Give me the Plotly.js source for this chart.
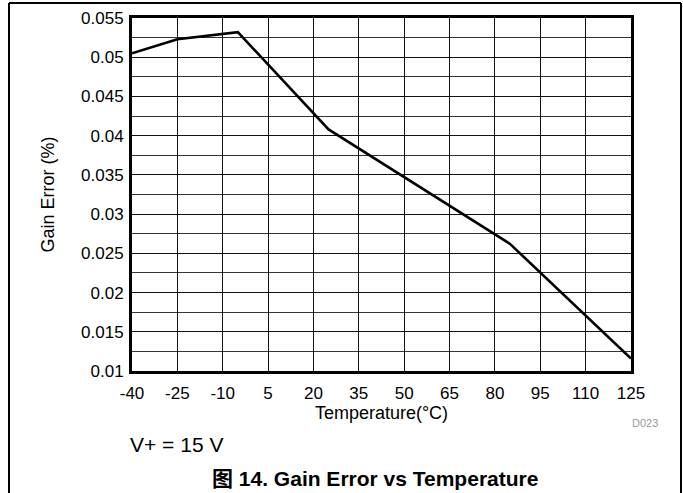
<!DOCTYPE html>
<html>
<head>
<meta charset="utf-8">
<script src="https://cdn.plot.ly/plotly-3.0.1.min.js"></script>
<style>
html, body { margin: 0; padding: 0; background: #fff; }
#chart { width: 683px; height: 493px; }
</style>
</head>
<body>
<div id="chart"></div>
<script>
// Data
const temperatureC = [-40, -25, -5, 25, 85, 125];
const gainErrorPct = [0.0505, 0.0523, 0.0532, 0.0408, 0.0262, 0.0116];
const xTickVals = [-40, -25, -10, 5, 20, 35, 50, 65, 80, 95, 110, 125];
const yTickVals = [0.01, 0.015, 0.02, 0.025, 0.03, 0.035, 0.04, 0.045, 0.05, 0.055];
const yTickText = ['0.01', '0.015', '0.02', '0.025', '0.03', '0.035', '0.04', '0.045', '0.05', '0.055'];

const FONT = 'Liberation Sans, Arial, Noto Sans CJK SC, sans-serif';

const W = 683, H = 493;
const L = 132, R = 631, T = 18, B = 371;
const pw = R - L, ph = B - T;
const px = x => (x - L) / pw;
const py = y => (B - y) / ph;

const trace = {
  x: temperatureC,
  y: gainErrorPct,
  mode: 'lines',
  type: 'scatter',
  line: { color: '#000', width: 2.6 },
  hoverinfo: 'skip'
};

const layout = {
  width: W, height: H,
  margin: { l: L, r: W - R, t: T, b: H - B, pad: 0 },
  paper_bgcolor: '#fff',
  plot_bgcolor: '#fff',
  showlegend: false,
  font: { family: FONT, color: '#000', size: 17 },
  xaxis: {
    range: [-40, 125],
    tickmode: 'array',
    tickvals: xTickVals,
    ticktext: xTickVals.map(String),
    showgrid: true, gridcolor: '#111', gridwidth: 1,
    zeroline: false,
    showline: true, linecolor: '#000', linewidth: 3, mirror: true,
    ticks: '', ticklabelstandoff: 5,
    tickfont: { family: FONT, size: 17, color: '#000' },
    title: { text: 'Temperature(°C)', font: { family: FONT, size: 18, color: '#000' }, standoff: 4 }
  },
  yaxis: {
    range: [0.01, 0.055],
    tickmode: 'array',
    tickvals: yTickVals,
    ticktext: yTickText,
    showgrid: true, gridcolor: '#111', gridwidth: 1,
    minor: { dtick: 0.0025, tick0: 0.01, showgrid: true, gridcolor: '#333', gridwidth: 1, ticks: '' },
    zeroline: false,
    showline: true, linecolor: '#000', linewidth: 3, mirror: true,
    ticks: '', ticklabelstandoff: 2,
    tickfont: { family: FONT, size: 17, color: '#000' },
    title: { text: 'Gain Error (%)', font: { family: FONT, size: 18, color: '#000' }, standoff: 22 }
  },
  shapes: [
    { type: 'line', xref: 'paper', yref: 'paper', x0: px(9), x1: px(9), y0: py(3), y1: py(500), line: { color: '#000', width: 2 } },
    { type: 'line', xref: 'paper', yref: 'paper', x0: px(681), x1: px(681), y0: py(3), y1: py(500), line: { color: '#000', width: 2 } },
    { type: 'line', xref: 'paper', yref: 'paper', x0: px(9), x1: px(681), y0: py(3), y1: py(3), line: { color: '#000', width: 2 } }
  ],
  annotations: [
    { xref: 'paper', yref: 'paper', x: px(660), y: py(423), text: 'D023', showarrow: false,
      xanchor: 'right', yanchor: 'middle', font: { family: FONT, size: 11, color: '#999' } },
    { xref: 'paper', yref: 'paper', x: px(128), y: py(444), text: 'V+ = 15 V', showarrow: false,
      xanchor: 'left', yanchor: 'middle', font: { family: FONT, size: 21, color: '#000' } },
    { xref: 'paper', yref: 'paper', x: px(375), y: py(492), text: '<b>图 14. Gain Error vs Temperature</b>', showarrow: false,
      xanchor: 'center', yanchor: 'bottom', font: { family: FONT, size: 21, color: '#000' } }
  ]
};

Plotly.newPlot('chart', [trace], layout, { displayModeBar: false, staticPlot: true });
</script>
</body>
</html>
